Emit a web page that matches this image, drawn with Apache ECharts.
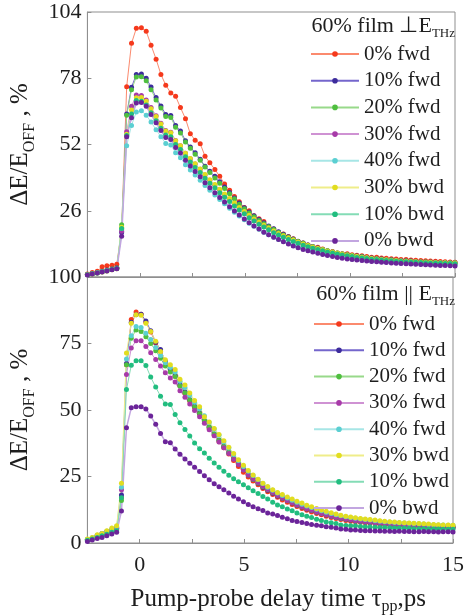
<!DOCTYPE html>
<html><head><meta charset="utf-8">
<script src="https://cdn.jsdelivr.net/npm/echarts@6/dist/echarts.min.js"></script>
<style>html,body{margin:0;padding:0;background:#fff}#c{width:467px;height:616px}</style>
</head><body><div id="c"></div>
<script>
// Pump-probe delay (ps)
const delay = [-2.5,-2.27,-2.03,-1.8,-1.57,-1.33,-1.1,-0.87,-0.63,-0.4,-0.17,0.07,0.3,0.53,0.77,1.0,1.23,1.47,1.7,1.93,2.17,2.4,2.63,2.87,3.1,3.33,3.57,3.8,4.03,4.27,4.5,4.73,4.97,5.2,5.43,5.67,5.9,6.13,6.37,6.6,6.83,7.07,7.3,7.53,7.77,8.0,8.23,8.47,8.7,8.93,9.17,9.4,9.63,9.87,10.1,10.33,10.57,10.8,11.03,11.27,11.5,11.73,11.97,12.2,12.43,12.67,12.9,13.13,13.37,13.6,13.83,14.07,14.3,14.53,14.77,15.0];

const seriesNames = ['0% fwd','10% fwd','20% fwd','30% fwd','40% fwd','30% bwd','10% bwd','0% bwd'];
const markerColors = ['#f5391c','#3d2c9c','#4fbf3f','#a73aa8','#5bcfd2','#e2dd1f','#21bd7f','#6b2499'];
const lineColors = ['#fb8a6e','#7466cc','#98d98a','#cf92d3','#a7e6e6','#efed8a','#84dcb6','#c2a6e0'];

const yTicksTop = [0,26,52,78,104];
const yTicksBottom = [0,25,50,75,100];
const xTicks = [0,5,10,15];

// Top panel: film perpendicular to E_THz
const perp0fwd = [1.2,1.8,2.3,4.0,4.4,4.6,5.0,
 18.5,74.7,91.7,97.6,97.8,96.4,91.0,85.5,79.5,75.3,72.2,70.9,66.5,62.1,56.2,53.7,52.3,47.4,44.8,42.2,39.5,36.5,34.0,31.6,29.5,27.3,26.0,24.0,22.9,21.8,19.8,18.8,17.6,16.9,15.9,15.0,13.9,13.3,12.6,11.9,11.7,11.0,10.2,10.0,9.3,9.1,9.1,8.7,
 8.5,8.3,8.0,7.8,7.8,7.5,7.4,7.2,7.1,6.9,6.9,6.7,6.6,6.5,6.4,6.3,6.2,6.1,6.0,5.9,5.8];
const perp10fwd = [1.0,1.4,1.8,2.3,2.7,3.1,3.6,
 17.5,64.0,74.5,79.5,79.7,78.0,74.6,70.4,67.1,63.8,63.4,59.5,57.3,53.5,51.0,48.8,46.2,43.5,41.5,39.5,37.4,35.3,33.2,31.0,29.0,27.2,25.5,24.0,22.6,21.3,20.0,18.9,17.8,16.8,15.8,14.9,14.0,13.3,12.6,12.0,11.4,10.8,10.3,9.8,9.4,9.0,8.7,8.4,
 8.2,8.0,7.7,7.5,7.3,7.1,6.9,6.8,6.6,6.5,6.4,6.3,6.1,6.0,5.9,5.9,5.8,5.7,5.7,5.6,5.6];
const perp20fwd = [1.0,1.3,1.7,2.2,2.6,3.1,3.5,
 20.5,63.5,73.5,78.5,78.6,77.0,73.5,69.5,66.3,63.0,62.6,58.8,56.5,53.0,50.5,48.2,45.8,43.2,41.0,38.9,36.8,34.7,32.7,30.7,28.6,26.8,25.1,23.6,22.2,20.9,19.7,18.6,17.5,16.5,15.6,14.7,13.9,13.2,12.5,11.9,11.3,10.8,10.3,9.8,9.4,9.0,8.7,8.4,
 8.1,7.9,7.6,7.4,7.2,7.0,6.8,6.7,6.5,6.4,6.3,6.2,6.0,5.9,5.9,5.8,5.7,5.6,5.6,5.5,5.5];
const perp30fwd = [0.9,1.3,1.7,2.1,2.6,3.0,3.4,
 18.0,57.0,67.0,71.4,71.2,69.5,66.5,63.3,60.3,57.5,56.8,53.6,51.5,48.6,46.4,44.3,42.3,40.0,38.0,36.1,34.2,32.3,30.5,28.7,27.0,25.4,23.9,22.5,21.2,20.0,18.9,17.8,16.8,15.9,15.0,14.2,13.4,12.7,12.1,11.5,10.9,10.4,9.9,9.5,9.1,8.7,8.4,8.1,
 7.8,7.6,7.4,7.2,7.0,6.8,6.7,6.5,6.4,6.3,6.1,6.0,5.9,5.8,5.7,5.7,5.6,5.5,5.5,5.4,5.4];
const perp40fwd = [0.9,1.3,1.7,2.1,2.5,2.9,3.3,
 19.0,51.5,59.5,64.8,65.2,63.5,60.8,57.8,55.0,52.4,51.8,48.8,46.8,44.1,42.0,40.0,38.0,35.9,34.0,32.2,30.4,28.7,27.0,25.4,23.9,22.5,21.1,19.9,18.7,17.6,16.6,15.6,14.7,13.9,13.1,12.4,11.7,11.1,10.5,10.0,9.5,9.1,8.7,8.3,8.0,7.7,7.4,7.1,
 6.9,6.7,6.5,6.3,6.2,6.0,5.9,5.7,5.6,5.5,5.4,5.3,5.2,5.1,5.0,5.0,4.9,4.8,4.8,4.7,4.7];
const perp30bwd = [0.9,1.2,1.6,2.0,2.4,2.8,3.2,
 19.5,56.0,65.5,70.3,70.4,69.0,66.0,63.0,60.0,57.3,56.6,53.5,51.5,48.6,46.5,44.4,42.4,40.2,38.2,36.3,34.4,32.6,30.8,29.0,27.3,25.7,24.2,22.8,21.5,20.3,19.2,18.1,17.1,16.2,15.3,14.5,13.7,13.0,12.4,11.8,11.2,10.7,10.2,9.8,9.4,9.0,8.6,8.3,
 8.0,7.8,7.6,7.3,7.1,6.9,6.8,6.6,6.5,6.3,6.2,6.1,6.0,5.9,5.8,5.8,5.7,5.6,5.6,5.5,5.5];
const perp10bwd = [0.9,1.3,1.6,2.1,2.5,2.9,3.3,
 19.0,55.5,64.0,69.3,69.0,67.5,64.5,61.3,58.4,55.7,55.0,52.0,50.0,47.2,45.1,43.0,41.0,38.8,36.8,35.0,33.1,31.3,29.6,27.9,26.3,24.8,23.3,22.0,20.7,19.6,18.5,17.4,16.5,15.6,14.7,13.9,13.2,12.5,11.9,11.3,10.8,10.3,9.8,9.4,9.0,8.6,8.3,8.0,
 7.7,7.5,7.3,7.0,6.9,6.7,6.5,6.4,6.2,6.1,6.0,5.9,5.8,5.7,5.6,5.5,5.5,5.4,5.3,5.3,5.2];
const perp0bwd = [0.8,1.2,1.6,2.0,2.4,2.8,3.2,
 16.0,55.0,62.5,68.3,68.5,67.0,63.8,60.5,57.5,54.7,54.0,50.8,48.7,45.8,43.6,41.4,39.3,37.0,35.0,33.1,31.2,29.4,27.6,25.9,24.3,22.8,21.3,20.0,18.8,17.6,16.6,15.6,14.7,13.8,13.0,12.2,11.5,10.8,10.3,9.8,9.3,8.8,8.4,8.0,7.7,7.4,7.1,6.9,
 6.7,6.5,6.3,6.1,6.0,5.8,5.7,5.5,5.4,5.3,5.2,5.1,5.0,4.9,4.8,4.7,4.6,4.5,4.5,4.4,4.3];

// Bottom panel: film parallel to E_THz
const par0fwd = [1.3,1.8,2.6,3.4,4.2,5.0,5.8,
 17.0,67.0,84.0,86.8,86.0,83.0,79.3,75.2,72.0,67.8,64.8,62.7,59.2,56.3,53.4,50.9,48.4,45.6,43.0,40.5,38.1,35.8,33.5,31.0,28.8,26.6,24.8,23.3,21.9,20.5,19.3,18.2,17.2,16.2,15.3,14.5,13.7,13.0,12.3,11.7,11.1,10.6,10.1,9.6,9.2,8.8,8.5,8.2,
 8.0,7.8,7.6,7.4,7.2,7.0,6.9,6.8,6.6,6.5,6.4,6.3,6.2,6.1,6.1,6.0,6.0,5.9,5.9,5.8,5.8];
const par10fwd = [1.2,1.9,2.8,3.6,4.3,4.8,5.5,
 18.0,67.5,83.0,85.8,86.0,83.5,79.8,75.5,72.7,68.3,65.2,63.0,59.6,56.8,53.9,51.4,48.9,46.0,43.5,41.0,38.6,36.3,34.0,31.8,29.7,27.6,25.6,24.0,22.5,21.0,19.8,18.7,17.7,16.8,15.9,15.0,14.2,13.5,12.8,12.2,11.6,11.0,10.5,10.0,9.6,9.2,8.9,8.6,
 8.3,8.1,7.9,7.7,7.5,7.3,7.2,7.0,6.9,6.8,6.6,6.5,6.4,6.3,6.3,6.2,6.1,6.0,6.0,5.9,5.9];
const par20fwd = [1.1,1.7,2.4,3.1,3.8,4.5,5.2,
 16.0,67.0,77.0,80.1,79.5,77.5,75.0,72.3,69.5,66.5,64.3,62.6,59.0,56.5,53.8,51.2,48.7,46.0,43.5,41.0,38.6,36.3,34.0,31.8,29.7,27.5,25.6,24.0,22.6,21.2,20.0,18.9,17.9,16.9,16.0,15.1,14.3,13.6,12.9,12.3,11.7,11.1,10.6,10.1,9.7,9.3,9.0,8.7,
 8.4,8.2,8.0,7.8,7.6,7.4,7.3,7.1,7.0,6.8,6.7,6.6,6.5,6.4,6.4,6.3,6.2,6.1,6.1,6.0,6.0];
const par30fwd = [1.2,1.8,2.6,3.3,4.0,4.8,5.6,
 20.0,63.3,73.3,76.0,76.0,73.9,71.5,69.0,66.5,64.0,62.0,60.5,57.2,54.8,52.3,49.8,47.5,45.0,42.6,40.3,38.0,35.8,33.6,31.5,29.5,27.4,25.6,24.1,22.7,21.3,20.1,19.0,17.9,16.9,16.0,15.1,14.3,13.6,12.9,12.3,11.7,11.1,10.6,10.1,9.7,9.3,9.0,8.7,
 8.4,8.2,8.0,7.8,7.6,7.4,7.3,7.1,7.0,6.9,6.7,6.6,6.5,6.4,6.4,6.3,6.2,6.1,6.1,6.0,6.0];
const par40fwd = [1.4,2.0,2.9,3.5,4.4,5.3,6.2,
 21.0,69.2,77.9,81.4,81.0,78.9,76.5,73.5,70.5,67.8,66.0,64.3,60.8,58.5,55.6,52.9,50.5,47.8,45.3,42.9,40.5,38.1,35.7,33.3,31.0,28.8,27.0,25.4,23.9,22.4,21.0,19.8,18.8,17.9,16.9,16.1,15.3,14.6,13.9,13.3,12.7,12.1,11.6,11.1,10.6,10.2,9.9,9.6,
 9.3,9.0,8.8,8.6,8.4,8.2,8.0,7.9,7.7,7.6,7.5,7.4,7.3,7.2,7.1,7.0,6.9,6.8,6.8,6.7,6.7];
const par30bwd = [1.5,2.1,3.1,3.6,4.6,5.6,6.5,
 22.5,71.4,82.6,85.8,85.6,82.6,79.5,75.8,72.0,68.9,67.0,65.2,61.6,59.4,56.4,53.6,51.2,47.5,45.5,43.0,40.8,38.4,36.0,33.6,31.3,29.2,27.3,25.6,24.0,22.5,21.2,20.0,19.0,18.2,17.3,16.5,15.7,15.0,14.2,13.6,13.0,12.4,11.9,11.4,10.9,10.4,10.1,9.8,
 9.5,9.2,9.0,8.8,8.6,8.4,8.2,8.0,7.9,7.7,7.6,7.5,7.4,7.3,7.2,7.1,7.0,6.9,6.8,6.8,6.7];
const par10bwd = [1.0,1.5,2.1,2.7,3.3,4.0,4.6,
 17.0,57.7,66.8,68.5,68.5,66.7,62.4,58.6,55.2,52.3,52.1,48.3,45.2,42.7,40.2,37.6,35.4,33.8,31.9,30.1,28.5,27.0,25.5,24.2,23.0,21.9,20.8,19.6,18.6,17.5,16.5,15.3,14.3,13.6,12.8,12.1,11.3,10.6,10.1,9.6,8.9,8.5,7.9,7.6,7.3,6.8,6.6,6.5,
 6.5,6.2,6.1,6.0,5.9,5.8,5.8,5.7,5.6,5.6,5.5,5.5,5.4,5.4,5.4,5.3,5.3,5.3,5.2,5.2,5.2];
const par0bwd = [0.6,1.1,1.7,2.1,2.7,3.4,4.0,
 12.0,43.3,50.8,51.2,51.2,50.4,47.7,44.6,41.2,38.1,37.7,35.3,33.4,31.6,30.0,28.5,26.9,25.3,23.8,22.3,21.1,20.0,18.8,17.6,16.5,15.5,14.5,13.6,12.9,12.2,11.3,10.9,10.3,9.7,9.1,8.5,8.1,7.7,7.3,7.0,6.7,6.5,6.1,5.9,5.6,5.3,5.2,4.9,
 4.9,4.7,4.6,4.6,4.5,4.5,4.4,4.4,4.3,4.4,4.3,4.3,4.2,4.2,4.3,4.2,4.2,4.1,4.2,4.2,4.1];

const perpSets = [perp0fwd, perp10fwd, perp20fwd, perp30fwd, perp40fwd, perp30bwd, perp10bwd, perp0bwd];
const parSets = [par0fwd, par10fwd, par20fwd, par30fwd, par40fwd, par30bwd, par10bwd, par0bwd];

const FONT = 'Liberation Serif';
const TXT = '#1e1e1e';
const AX = '#8f8f8f';

function mkSeries(sets, gi) {
  return sets.map((arr, k) => ({
    type: 'line', name: seriesNames[k], xAxisIndex: gi, yAxisIndex: gi,
    data: delay.map((x, i) => [x, arr[i]]),
    symbol: 'circle', symbolSize: 5, showSymbol: true, clip: false,
    itemStyle: { color: markerColors[k] },
    lineStyle: { color: lineColors[k], width: k === 7 ? 1.5 : 1 },
    emphasis: { disabled: true }, animation: false
  }));
}

const axisLineStyle = { onZero: false, lineStyle: { color: AX, width: 1 } };
const tickStyle = { inside: true, length: 4, lineStyle: { color: AX } };
const yNameRich = {
  a: { fontFamily: FONT, fontSize: 25, fontWeight: 'normal', color: TXT, lineHeight: 34, verticalAlign: 'middle' },
  s: { fontFamily: FONT, fontSize: 16, fontWeight: 'normal', color: TXT, lineHeight: 34, verticalAlign: 'bottom' }
};
const titleRich = {
  t: { fontFamily: FONT, fontSize: 22, fontWeight: 'normal', color: TXT, lineHeight: 28, verticalAlign: 'middle' },
  s: { fontFamily: FONT, fontSize: 13, fontWeight: 'normal', color: TXT, lineHeight: 28, verticalAlign: 'bottom' }
};

const chart = echarts.init(document.getElementById('c'), null, { renderer: 'canvas' });
chart.setOption({
  animation: false,
  backgroundColor: '#fff',
  grid: [
    { left: 81, top: 12, width: 374, height: 265, show: true, borderColor: AX, borderWidth: 1, backgroundColor: 'transparent' },
    { left: 81, top: 277, width: 374, height: 267, show: true, borderColor: AX, borderWidth: 1, backgroundColor: 'transparent' }
  ],
  title: [
    { text: '{t|60% film ⊥E}{s|THz}', right: 12, top: 12, padding: 0,
      textStyle: { fontWeight: 'normal', rich: titleRich } },
    { text: '{t|60% film || E}{s|THz}', right: 12, top: 280, padding: 0,
      textStyle: { fontWeight: 'normal', rich: titleRich } }
  ],
  legend: [
    { data: seriesNames, orient: 'vertical', left: 310, top: 43, padding: 0, itemWidth: 48, itemHeight: 7, itemGap: 4.7,
      selectedMode: false, textStyle: { fontFamily: FONT, fontSize: 21, color: TXT, lineHeight: 22 } },
    { data: seriesNames, orient: 'vertical', left: 313, top: 313, padding: 0, itemWidth: 50, itemHeight: 7, itemGap: 4.3,
      selectedMode: false, textStyle: { fontFamily: FONT, fontSize: 21, color: TXT, lineHeight: 22 } }
  ],
  xAxis: [
    { gridIndex: 0, type: 'value', min: -2.5, max: 15, interval: 2.5,
      axisLine: axisLineStyle, axisTick: tickStyle, axisLabel: { show: false }, splitLine: { show: false } },
    { gridIndex: 1, type: 'value', min: -2.5, max: 15, interval: 2.5,
      axisLine: axisLineStyle, axisTick: tickStyle, splitLine: { show: false },
      axisLabel: { fontFamily: FONT, fontSize: 22, color: TXT, margin: 11,
        formatter: v => (xTicks.indexOf(v) >= 0 ? String(v) : '') },
      name: '{a|Pump-probe delay time τ}{s|pp}{a|,ps}', nameLocation: 'middle', nameGap: 40,
      nameTextStyle: { padding: [0, 0, 0, 16], rich: {
        a: { fontFamily: FONT, fontSize: 25, color: TXT, lineHeight: 32, verticalAlign: 'middle' },
        s: { fontFamily: FONT, fontSize: 16, color: TXT, lineHeight: 32, verticalAlign: 'bottom' } } } }
  ],
  yAxis: [
    { gridIndex: 0, type: 'value', min: 0, max: 104, interval: 26,
      axisLine: axisLineStyle, axisTick: tickStyle, splitLine: { show: false },
      axisLabel: { fontFamily: FONT, fontSize: 22, color: TXT, margin: 6,
        formatter: v => (v === 0 ? '' : (yTicksTop.indexOf(v) >= 0 ? String(v) : '')) },
      name: '{a|ΔE/E}{s|OFF}{a| , %}', nameLocation: 'middle', nameRotate: 90, nameGap: 48,
      nameTextStyle: { rich: yNameRich } },
    { gridIndex: 1, type: 'value', min: 0, max: 100, interval: 25,
      axisLine: axisLineStyle, axisTick: tickStyle, splitLine: { show: false },
      axisLabel: { fontFamily: FONT, fontSize: 22, color: TXT, margin: 6,
        formatter: v => (yTicksBottom.indexOf(v) >= 0 ? String(v) : '') },
      name: '{a|ΔE/E}{s|OFF}{a| , %}', nameLocation: 'middle', nameRotate: 90, nameGap: 48,
      nameTextStyle: { rich: yNameRich } }
  ],
  series: mkSeries(perpSets, 0).concat(mkSeries(parSets, 1))
});
</script>
</body></html>
